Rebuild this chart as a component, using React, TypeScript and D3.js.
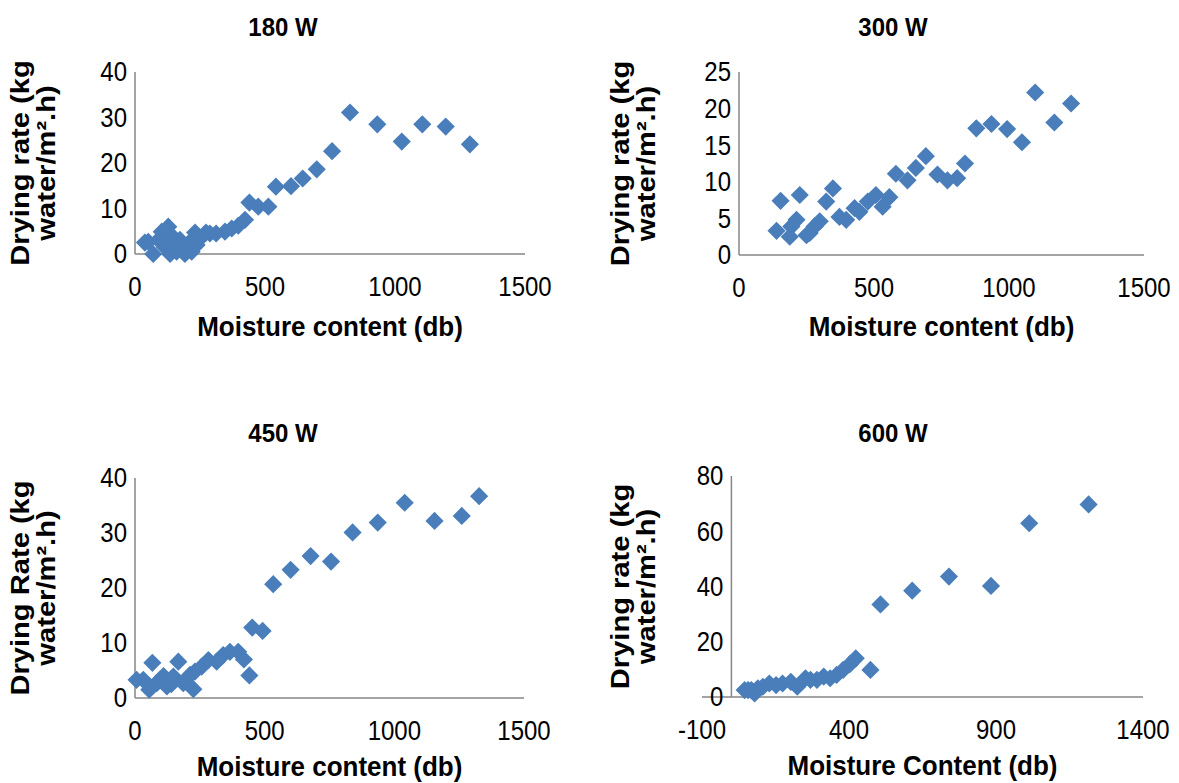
import React from "react";
import * as d3 from "d3";

// 180 W
const x180 = [38, 51, 70, 90, 103, 115, 122, 128, 135, 142, 147, 160, 173, 180, 192, 200, 212, 218, 231, 237, 252, 273, 288, 312, 346, 372, 397, 423, 440, 474, 513, 542, 600, 645, 699, 758, 827, 932, 1026, 1105, 1195, 1288];
const y180 = [2.5, 2.7, 0.0, 3.1, 4.9, 1.5, 2.3, 6.0, 0.0, 4.0, 1.6, 0.5, 3.1, 2.0, 0.0, 1.0, 2.7, 0.5, 4.7, 2.0, 3.5, 4.7, 4.5, 4.5, 4.9, 5.6, 6.2, 7.5, 11.3, 10.4, 10.4, 14.8, 14.9, 16.6, 18.6, 22.6, 31.1, 28.5, 24.7, 28.5, 28.0, 24.1];

// 300 W
const x300 = [139, 154, 188, 194, 213, 225, 250, 262, 280, 299, 323, 348, 372, 397, 428, 446, 477, 507, 532, 557, 581, 624, 655, 692, 735, 772, 808, 837, 879, 935, 993, 1048, 1097, 1168, 1230];
const y300 = [3.3, 7.4, 2.5, 3.9, 4.8, 8.2, 2.7, 3.0, 3.9, 4.6, 7.3, 9.1, 5.2, 4.8, 6.4, 5.9, 7.3, 8.2, 6.6, 7.9, 11.1, 10.2, 11.9, 13.5, 11.0, 10.2, 10.5, 12.5, 17.3, 17.9, 17.2, 15.4, 22.2, 18.1, 20.7];

// 450 W
const x450 = [6, 32, 55, 67, 84, 96, 110, 123, 140, 148, 167, 186, 212, 225, 231, 257, 283, 315, 340, 366, 398, 420, 441, 452, 492, 533, 600, 677, 756, 839, 936, 1040, 1155, 1260, 1327];
const y450 = [3.3, 3.3, 1.5, 6.4, 2.7, 3.3, 4.0, 2.1, 2.5, 3.9, 6.6, 2.7, 4.2, 1.6, 4.8, 5.7, 6.9, 6.6, 7.8, 8.4, 8.4, 7.0, 4.1, 12.8, 12.2, 20.7, 23.3, 25.8, 24.8, 30.1, 31.9, 35.5, 32.2, 33.1, 36.7];

// 600 W
const x600 = [45, 57, 68, 79, 90, 107, 129, 152, 174, 202, 224, 252, 269, 291, 314, 336, 358, 380, 403, 423, 473, 507, 615, 740, 883, 1013, 1215];
const y600 = [2.5, 2.5, 2.5, 1.3, 3.1, 3.7, 4.9, 4.3, 4.9, 5.5, 3.7, 6.8, 6.2, 6.2, 7.4, 6.8, 8.0, 9.8, 11.9, 14.0, 9.8, 33.5, 38.5, 43.6, 40.2, 62.9, 69.7];

const ticksX = [0, 500, 1000, 1500];
const ticksX600 = [-100, 400, 900, 1400];
const ticksY40 = [0, 10, 20, 30, 40];
const ticksY25 = [0, 5, 10, 15, 20, 25];
const ticksY80 = [0, 20, 40, 60, 80];

const FONT = "'Liberation Sans', Arial, sans-serif";
const BLUE = "#4a7ebb";
const AXIS = "#868686";
// the source picture is a bit taller than wide, so text gets stretched vertically
const STRETCH = 1.12;

type PanelProps = {
  title: string;
  xs: number[];
  ys: number[];
  xDomain: [number, number];
  yDomain: [number, number];
  xTicks: number[];
  yTicks: number[];
  xTitle: string;
  yTitle: string;
  left: number;
  right: number;
  top: number;
  bottom: number;
  titleX: number;
  titleY: number;
  yTitleX: number;
  xTitleDy: number;
};

const Panel = (p: PanelProps) => {
  const x = d3.scaleLinear().domain(p.xDomain).range([p.left, p.right]);
  const y = d3.scaleLinear().domain(p.yDomain).range([p.bottom, p.top]);
  const diamond = d3.symbol().type(d3.symbolSquare).size(165)();
  // y axis crosses at x = 0
  const x0 = x(Math.max(p.xDomain[0], 0));
  const cy = (p.top + p.bottom) / 2;

  return (
    <g fontFamily={FONT}>
      <text
        transform={`translate(${p.titleX},${p.titleY}) scale(1,1.08)`}
        textAnchor="middle"
        fontWeight="bold"
        fontSize={24}
      >
        {p.title}
      </text>
      <line x1={x0} x2={x0} y1={p.top} y2={p.bottom} stroke={AXIS} strokeWidth={1.5} />
      <line x1={p.left} x2={p.right} y1={p.bottom} y2={p.bottom} stroke={AXIS} strokeWidth={1.5} />
      {p.yTicks.map((t) => (
        <text
          key={"y" + t}
          transform={`translate(${x0 - 8},${y(t)}) scale(1,${STRETCH})`}
          dy="0.35em"
          textAnchor="end"
          fontSize={24}
        >
          {t}
        </text>
      ))}
      {p.xTicks.map((t) => (
        <text
          key={"x" + t}
          transform={`translate(${x(t)},${p.bottom + 42}) scale(1,${STRETCH})`}
          textAnchor="middle"
          fontSize={24}
        >
          {t}
        </text>
      ))}
      <text
        transform={`translate(${(p.left + p.right) / 2},${p.bottom + p.xTitleDy}) scale(1,1.06)`}
        textAnchor="middle"
        fontWeight="bold"
        fontSize={26}
      >
        {p.xTitle}
      </text>
      <text
        transform={`translate(${p.yTitleX},${cy}) scale(1,1.12) rotate(-90)`}
        textAnchor="middle"
        fontWeight="bold"
        fontSize={26}
      >
        <tspan x={0} dy={0}>{p.yTitle}</tspan>
        <tspan x={0} dy={26}>water/m²<tspan>.h)</tspan></tspan>
      </text>
      {p.xs.map((v, i) => (
        <path
          key={i}
          d={diamond}
          transform={`translate(${x(v)},${y(p.ys[i])}) rotate(45)`}
          fill={BLUE}
        />
      ))}
    </g>
  );
};

export default function App() {
  return (
    <svg
      width={1179}
      height={783}
      style={{ position: "absolute", left: 0, top: 0, background: "#fff" }}
    >
      <Panel
        title="180 W" xs={x180} ys={y180} xDomain={[0, 1500]} yDomain={[0, 40]}
        xTicks={ticksX} yTicks={ticksY40} xTitle="Moisture content (db)" yTitle="Drying rate (kg"
        left={135} right={525} top={72} bottom={254} titleX={283} titleY={36} yTitleX={29} xTitleDy={82}
      />
      <Panel
        title="300 W" xs={x300} ys={y300} xDomain={[0, 1500]} yDomain={[0, 25]}
        xTicks={ticksX} yTicks={ticksY25} xTitle="Moisture content (db)" yTitle="Drying rate (kg"
        left={739} right={1144} top={72} bottom={255} titleX={893} titleY={36} yTitleX={629} xTitleDy={81}
      />
      <Panel
        title="450 W" xs={x450} ys={y450} xDomain={[0, 1500]} yDomain={[0, 40]}
        xTicks={ticksX} yTicks={ticksY40} xTitle="Moisture content (db)" yTitle="Drying Rate (kg"
        left={135} right={524} top={478} bottom={698} titleX={283} titleY={442} yTitleX={29} xTitleDy={78}
      />
      <Panel
        title="600 W" xs={x600} ys={y600} xDomain={[-100, 1400]} yDomain={[0, 80]}
        xTicks={ticksX600} yTicks={ticksY80} xTitle="Moisture Content (db)" yTitle="Drying rate (kg"
        left={702} right={1143} top={476} bottom={697} titleX={893} titleY={442} yTitleX={629} xTitleDy={78}
      />
    </svg>
  );
}
